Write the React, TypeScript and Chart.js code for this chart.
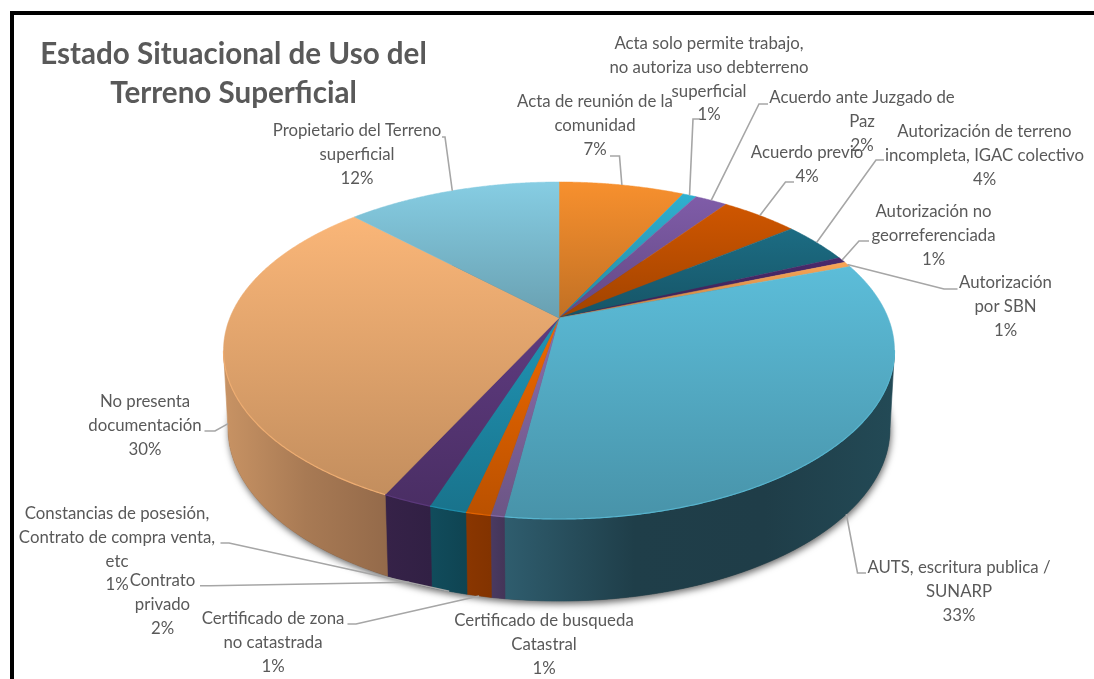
import React, { useEffect, useRef } from "react";
import { Chart, registerables } from "chart.js";

Chart.register(...registerables);

const titleLines = ["Estado Situacional de Uso del", "Terreno Superficial"];

const categories = [
  "Acta de reunión de la comunidad",
  "Acta solo permite trabajo, no autoriza uso debterreno superficial",
  "Acuerdo ante Juzgado de Paz",
  "Acuerdo previo",
  "Autorización de terreno incompleta, IGAC colectivo",
  "Autorización no georreferenciada",
  "Autorización por SBN",
  "AUTS, escritura publica / SUNARP",
  "Certificado de busqueda Catastral",
  "Certificado de zona no catastrada",
  "Constancias de posesión, Contrato de compra venta, etc",
  "Contrato privado",
  "No presenta documentación",
  "Propietario del Terreno superficial",
];

const values = [7.3, 0.8, 1.9, 4.5, 4.0, 0.55, 0.5, 32.7, 0.55, 1.0, 1.5, 2.0, 30.4, 12.5];

const percentLabels = ["7%", "1%", "2%", "4%", "4%", "1%", "1%", "33%", "1%", "1%", "1%", "2%", "30%", "12%"];

const wrappedLabels = [
  ["Acta de reunión de la", "comunidad"],
  ["Acta solo permite trabajo,", "no autoriza uso debterreno", "superficial"],
  ["Acuerdo ante Juzgado de", "Paz"],
  ["Acuerdo previo"],
  ["Autorización de terreno", "incompleta, IGAC colectivo"],
  ["Autorización no", "georreferenciada"],
  ["Autorización", "por SBN"],
  ["AUTS, escritura publica /", "SUNARP"],
  ["Certificado de busqueda", "Catastral"],
  ["Certificado de zona", "no catastrada"],
  ["Constancias de posesión,", "Contrato de compra venta,", "etc"],
  ["Contrato", "privado"],
  ["No presenta", "documentación"],
  ["Propietario del Terreno", "superficial"],
];

// label block: centre x, centre y of first line
const labelAnchors = [
  [595, 102], [709, 44], [862, 98], [807, 153], [984.5, 132], [933.5, 212], [1005.5, 283],
  [959, 568], [544, 621], [273, 619], [117, 514], [162.5, 581], [145, 402], [357, 131],
];

// leader start and elbow near each label (end comes from the slice's angle on the rim)
const leaderElbows: (number[][] | null)[] = [
  [[610, 156], [619.5, 156]],
  [[700, 119], [693, 119]],
  [[768, 104], [759, 104]],
  [[794, 182], [785.5, 182]],
  [[884, 160], [876, 160]],
  [[869, 241], [859, 241]],
  [[957.5, 289], [944, 289]],
  [[866, 573], [857.5, 573]],
  null,
  [[347.5, 624], [356, 624]],
  [[220.5, 543], [229, 543]],
  [[200, 585.7], [210, 585.7]],
  [[204.5, 431], [215, 431]],
  [[442, 137], [445, 137]],
];

const topColors = [
  "#f7902e", "#2fb0d0", "#7f5ca8", "#cf5600", "#1c6c83", "#4a2a6c", "#f9a556",
  "#5cbdd9", "#8a6dab", "#ee6800", "#2094b4", "#5f3b80", "#fab678", "#86cde3",
];

const sideColors = [
  ["#a05e1e", "#8a4f18"], ["#14505f", "#114451"], ["#3f2a55", "#35224c"], ["#7a3400", "#6e2e00"],
  ["#0f3d4b", "#0d3542"], ["#2a1840", "#2a1840"], ["#9a6a3a", "#9a6a3a"],
  ["#2f5d6e", "#1f3e49", "#1f3d48", "#234a56"], ["#4a3a62", "#443558"], ["#8a3600", "#823300"],
  ["#114c5c", "#0f4452"], ["#362248", "#312044"], ["#c89364", "#a87a54", "#946a4a"], ["#5a8a9a", "#4f7d8c"],
];

const CX = 559;
const APEX_Y = 318;
const TOP_CY = 350.5;
const TOP_RX = 335.5;
const TOP_RY = 168.5;
const LOW_CY = 428.5;
const LOW_RX = 331;
const LOW_RY = 172.5;
const PERSP = -0.1929;
const NUM = 100.9;
const RAD = 329.2;

function rim(theta: number) {
  const u = Math.sin(theta);
  const v = -Math.cos(theta);
  const d = PERSP * v + 1;
  return [CX + (RAD * u) / d, (NUM * v + APEX_Y) / d];
}

function lower(p: number[]) {
  return [
    CX + ((p[0] - CX) / TOP_RX) * LOW_RX,
    LOW_CY + ((p[1] - TOP_CY) / TOP_RY) * LOW_RY,
  ];
}

function samples(a0: number, a1: number) {
  const n = Math.max(2, Math.ceil((a1 - a0) / 0.006));
  const out: number[][] = [];
  for (let i = 0; i <= n; i++) out.push(rim(a0 + ((a1 - a0) * i) / n));
  return out;
}

function shade(hex: string, f: number) {
  const n = parseInt(hex.slice(1), 16);
  const r = Math.round(((n >> 16) & 255) * f);
  const g = Math.round(((n >> 8) & 255) * f);
  const b = Math.round((n & 255) * f);
  return `rgb(${r},${g},${b})`;
}

const pie3d = {
  id: "pie3d",
  beforeDatasetsDraw(chart: any) {
    const ctx: CanvasRenderingContext2D = chart.ctx;
    const arcs = chart.getDatasetMeta(0).data;
    const spans = arcs.map((el: any) => [el.startAngle + Math.PI / 2, el.endAngle + Math.PI / 2]);

    ctx.save();
    // cast shadow under the body
    ctx.save();
    ctx.shadowColor = "rgba(0,0,0,0.6)";
    ctx.shadowBlur = 7;
    ctx.shadowOffsetX = 1;
    ctx.shadowOffsetY = 3;
    ctx.fillStyle = "#444";
    ctx.beginPath();
    ctx.ellipse(CX, LOW_CY, LOW_RX, LOW_RY, 0, 0, Math.PI * 2);
    ctx.fill();
    ctx.restore();

    // visible side walls
    spans.forEach((s: number[], i: number) => {
      const pts = samples(s[0], s[1]).filter((p) => p[1] >= TOP_CY);
      if (pts.length < 2) return;
      const low = pts.map(lower);
      const xs = pts.concat(low).map((p) => p[0]);
      const g = ctx.createLinearGradient(Math.min(...xs), 0, Math.max(...xs), 0);
      const stops = sideColors[i];
      stops.forEach((c, k) => g.addColorStop(k / (stops.length - 1), c));
      ctx.fillStyle = g;
      ctx.strokeStyle = g;
      ctx.lineWidth = 0.6;
      ctx.beginPath();
      pts.forEach((p, k) => (k ? ctx.lineTo(p[0], p[1]) : ctx.moveTo(p[0], p[1])));
      low.reverse().forEach((p) => ctx.lineTo(p[0], p[1]));
      ctx.closePath();
      ctx.fill();
      ctx.stroke();
    });

    // top faces
    spans.forEach((s: number[], i: number) => {
      const pts = samples(s[0], s[1]);
      const ys = pts.map((p) => p[1]).concat(APEX_Y);
      const g = ctx.createLinearGradient(0, Math.min(...ys), 0, Math.max(...ys));
      const base = arcs[i].options.backgroundColor as string;
      g.addColorStop(0, base);
      g.addColorStop(1, shade(base, 0.78));
      ctx.fillStyle = g;
      ctx.strokeStyle = g;
      ctx.lineWidth = 0.5;
      ctx.beginPath();
      ctx.moveTo(CX, APEX_Y);
      pts.forEach((p) => ctx.lineTo(p[0], p[1]));
      ctx.closePath();
      ctx.fill();
      ctx.stroke();
    });

    // light rim on the front edge
    spans.forEach((s: number[], i: number) => {
      const pts = samples(s[0], s[1]).filter((p) => p[1] >= TOP_CY);
      if (pts.length < 2) return;
      ctx.strokeStyle = shade(arcs[i].options.backgroundColor as string, 0.95);
      ctx.lineWidth = 1.2;
      ctx.beginPath();
      pts.forEach((p, k) => (k ? ctx.lineTo(p[0], p[1]) : ctx.moveTo(p[0], p[1])));
      ctx.stroke();
    });
    ctx.restore();
    return false;
  },
  afterDraw(chart: any) {
    const ctx: CanvasRenderingContext2D = chart.ctx;
    const arcs = chart.getDatasetMeta(0).data;
    ctx.save();

    // frame
    ctx.fillStyle = "#000";
    ctx.fillRect(10, 11, 1084, 4);
    ctx.fillRect(10, 11, 4, 668);

    // leader lines
    ctx.strokeStyle = "#a6a6a6";
    ctx.lineWidth = 1.6;
    arcs.forEach((el: any, i: number) => {
      const elbow = leaderElbows[i];
      if (!elbow) return;
      const mid = (el.startAngle + el.endAngle) / 2 + Math.PI / 2;
      let end = rim(mid);
      if (end[1] >= 340) end = lower(end);
      ctx.beginPath();
      ctx.moveTo(elbow[0][0], elbow[0][1]);
      ctx.lineTo(elbow[1][0], elbow[1][1]);
      ctx.lineTo(end[0], end[1]);
      ctx.stroke();
    });

    // category labels
    ctx.fillStyle = "#595959";
    ctx.textAlign = "center";
    ctx.textBaseline = "middle";
    ctx.font = "16.8px Lato";
    wrappedLabels.forEach((lines, i) => {
      const [x, y] = labelAnchors[i];
      lines.concat(percentLabels[i]).forEach((t, k) => ctx.fillText(t, x, y + k * 23.6));
    });

    // title
    ctx.font = "bold 29.6px Lato";
    ctx.fillText(titleLines[0], 233.5, 54);
    ctx.fillText(titleLines[1], 233.5, 93);
    ctx.restore();
  },
};

export default function App() {
  const ref = useRef<HTMLCanvasElement>(null);
  useEffect(() => {
    const chart = new Chart(ref.current!, {
      type: "pie",
      data: {
        labels: categories,
        datasets: [{ data: values, backgroundColor: topColors, borderWidth: 0 }],
      },
      options: {
        responsive: false,
        animation: false,
        plugins: { legend: { display: false }, tooltip: { enabled: false } },
      },
      plugins: [pie3d],
    } as any);
    return () => chart.destroy();
  }, []);
  return (
    <div style={{ position: "absolute", left: 0, top: 0, width: 1094, height: 679, background: "#fff" }}>
      <canvas ref={ref} width={1094} height={679} style={{ display: "block", filter: "blur(0.4px)" }} />
    </div>
  );
}
